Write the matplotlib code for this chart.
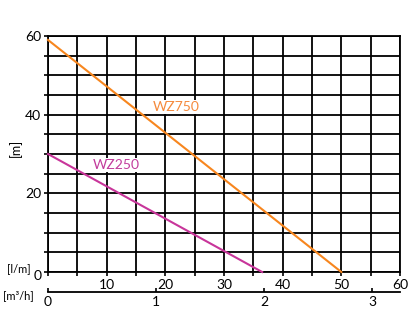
import numpy as np
import matplotlib
matplotlib.use('Agg')
import matplotlib.pyplot as plt

plt.rcParams['font.family'] = ['Lato', 'DejaVu Sans']

# pump curves: flow [l/m] vs head [m]
wz750_flow = [0, 50]
wz750_head = [59, 0]
wz250_flow = [0, 36.5]
wz250_head = [30, 0]

flow_ticks = [10, 20, 30, 40, 50, 60]
head_ticks = [20, 40, 60]
m3h_ticks = [0, 1, 2, 3]

orange = '#F7861E'
magenta = '#C8359A'

fig = plt.figure(figsize=(4.10, 3.36), dpi=100)
ax = fig.add_axes([48 / 410, 1 - 272 / 336, 352 / 410, 236 / 336])

ax.set_xlim(0, 60)
ax.set_ylim(0, 60)
ax.set_xticks(np.arange(0, 61, 5))
ax.set_yticks(np.arange(0, 61, 5))
ax.set_xticklabels([str(v) if v in flow_ticks else '' for v in np.arange(0, 61, 5)])
ax.set_yticklabels([str(v) if v in head_ticks else '' for v in np.arange(0, 61, 5)])
ax.tick_params(direction='out', length=3, width=1.2, labelsize=10, pad=2)
ax.grid(True, color='black', linewidth=1.3)
for sp in ax.spines.values():
    sp.set_linewidth(1.3)
ax.set_axisbelow(True)

ax.plot(wz750_flow, wz750_head, color=orange, linewidth=1.5, clip_on=False, zorder=3)
ax.plot(wz250_flow, wz250_head, color=magenta, linewidth=1.5, clip_on=False, zorder=3)

# curve names sit on a white patch that hides the grid behind them
box = dict(facecolor='white', edgecolor='none', pad=0.8)
ax.text(21.8, 41.9, 'WZ750', color='#F58A3C', fontsize=10, ha='center', va='center',
        bbox=box, zorder=4)
ax.text(11.7, 27.2, 'WZ250', color='#C23C9C', fontsize=10, ha='center', va='center',
        bbox=box, zorder=4)

ax.text(-1.7, -1.0, '0', fontsize=10, ha='center', va='center')
ax.text(-3.0, 0.8, '[l/m]', fontsize=8, ha='right', va='center')
ax.set_ylabel('[m]', fontsize=9)
ax.yaxis.set_label_coords(-0.074, 0.525)

# second flow scale in m3/h
ax2 = fig.add_axes([48 / 410, 1 - 292 / 336, 352 / 410, 0.0001])
ax2.set_xlim(0, 352 / 108)
ax2.set_yticks([])
for side in ['top', 'left', 'right']:
    ax2.spines[side].set_visible(False)
ax2.spines['bottom'].set_linewidth(1.3)
ax2.set_xticks(m3h_ticks)
ax2.tick_params(axis='x', direction='in', length=3, width=1.2, labelsize=10, pad=3)
fig.text(3 / 410, 1 - 296 / 336, '[m³/h]', fontsize=8, ha='left', va='center')

fig.savefig('out.png', dpi=100)
